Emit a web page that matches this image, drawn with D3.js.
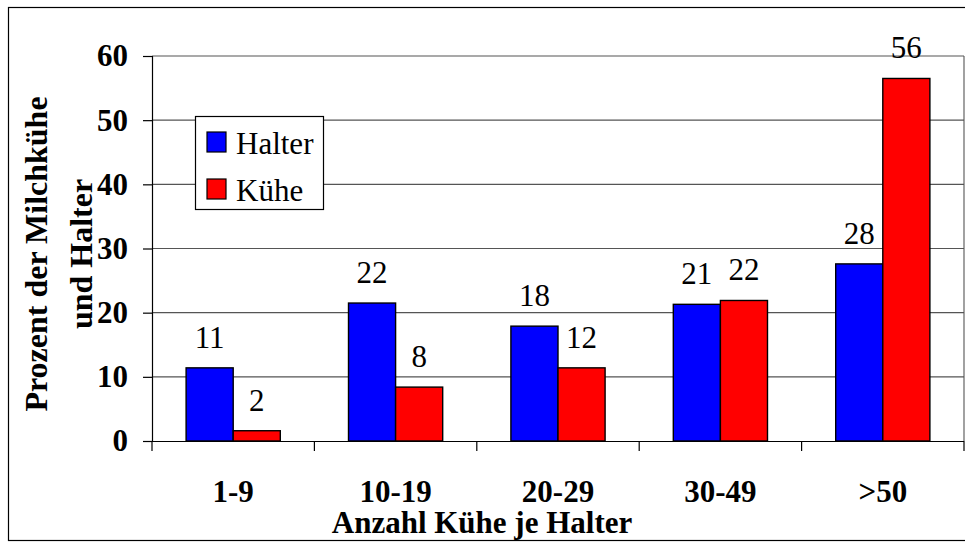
<!DOCTYPE html>
<html>
<head>
<meta charset="utf-8">
<script src="https://cdn.jsdelivr.net/npm/d3@7"></script>
<style>
  body { margin: 0; background: #fff; }
  svg { display: block; }
  text { font-family: "Liberation Serif", "Times New Roman", Times, "DejaVu Serif", serif; }
</style>
</head>
<body>
<svg id="chart" width="965" height="544"></svg>
<script>
// data
const categories = ['1-9', '10-19', '20-29', '30-49', '>50'];
const series = ['Halter', 'Kühe'];
const halter = [11.4, 21.5, 17.9, 21.3, 27.6];
const kuehe = [1.6, 8.4, 11.4, 21.9, 56.5];
const labelsHalter = ['11', '22', '18', '21', '28'];
const labelsKuehe = ['2', '8', '12', '22', '56'];
const yTicks = [0, 10, 20, 30, 40, 50, 60];
const colors = { 'Halter': '#0000ff', 'Kühe': '#ff0000' };

const FONT = '"Liberation Serif", "Times New Roman", Times, "DejaVu Serif", serif';

const svg = d3.select('#chart');
const plot = { left: 152, right: 964, top: 56, bottom: 441 };

const x0 = d3.scaleBand()
  .domain(categories)
  .range([plot.left, plot.right])
  .paddingInner(0.42)
  .paddingOuter(0.21);

const x1 = d3.scaleBand()
  .domain(series)
  .range([0, x0.bandwidth()]);

const y = d3.scaleLinear()
  .domain([0, 60])
  .range([plot.bottom, plot.top]);

const rows = categories.map((c, i) => ({
  cat: c,
  values: [
    { key: 'Halter', value: halter[i], label: labelsHalter[i] },
    { key: 'Kühe', value: kuehe[i], label: labelsKuehe[i] }
  ]
}));

// outer frame
svg.append('rect')
  .attr('x', 8.5).attr('y', 7.5)
  .attr('width', 975).attr('height', 533)
  .attr('fill', 'none').attr('stroke', '#000').attr('stroke-width', 1.2);

// gridlines
svg.append('g')
  .selectAll('line')
  .data(yTicks.filter(d => d > 0))
  .join('line')
  .attr('x1', plot.left).attr('x2', plot.right)
  .attr('y1', d => y(d)).attr('y2', d => y(d))
  .attr('stroke', '#555').attr('stroke-width', 1.1);

// right border of plot area
svg.append('line')
  .attr('x1', plot.right).attr('x2', plot.right)
  .attr('y1', plot.top).attr('y2', plot.bottom)
  .attr('stroke', '#555').attr('stroke-width', 1.1);

// bars
const groups = svg.append('g')
  .selectAll('g')
  .data(rows)
  .join('g')
  .attr('transform', d => `translate(${x0(d.cat)},0)`);

groups.selectAll('rect')
  .data(d => d.values)
  .join('rect')
  .attr('x', d => x1(d.key))
  .attr('y', d => y(d.value))
  .attr('width', x1.bandwidth())
  .attr('height', d => y(0) - y(d.value))
  .attr('fill', d => colors[d.key])
  .attr('stroke', '#000')
  .attr('stroke-width', 1.4);

groups.selectAll('text')
  .data(d => d.values)
  .join('text')
  .attr('x', d => x1(d.key) + x1.bandwidth() / 2)
  .attr('y', d => y(d.value) - 20)
  .attr('text-anchor', 'middle')
  .attr('font-family', FONT)
  .attr('font-size', 31)
  .text(d => d.label);

// y axis
const yAxis = d3.axisLeft(y).tickValues(yTicks).tickSize(9).tickPadding(15);
svg.append('g')
  .attr('transform', `translate(${plot.left},0)`)
  .call(yAxis)
  .attr('font-family', FONT)
  .call(g => {
    g.select('.domain').attr('stroke', '#000').attr('stroke-width', 1.2);
    g.selectAll('.tick line').attr('stroke', '#000').attr('stroke-width', 1.2);
    g.selectAll('.tick text')
      .attr('font-size', 31).attr('font-weight', 'bold')
      .attr('font-family', FONT)
      .attr('fill', '#000');
  });

// x axis
const xAxis = d3.axisBottom(x0).tickSize(0).tickPadding(0);
const xg = svg.append('g')
  .attr('transform', `translate(0,${plot.bottom})`)
  .call(xAxis)
  .attr('font-family', FONT);
xg.select('.domain').attr('d', `M${plot.left},0.5H${plot.right}`)
  .attr('stroke', '#000').attr('stroke-width', 1.2);
xg.selectAll('.tick text')
  .attr('y', 61).attr('dy', 0)
  .attr('font-size', 31).attr('font-weight', 'bold')
  .attr('font-family', FONT)
  .attr('fill', '#000');

// tick marks between categories
const bounds = categories.map(c => x0(c) - x0.step() * x0.paddingOuter()).concat([plot.right]);
svg.append('g')
  .selectAll('line')
  .data(bounds)
  .join('line')
  .attr('x1', d => d).attr('x2', d => d)
  .attr('y1', plot.bottom).attr('y2', plot.bottom + 10)
  .attr('stroke', '#000').attr('stroke-width', 1.2);

// axis titles
svg.append('text')
  .attr('x', 482).attr('y', 533)
  .attr('text-anchor', 'middle')
  .attr('font-family', FONT)
  .attr('font-size', 31).attr('font-weight', 'bold')
  .text('Anzahl Kühe je Halter');

const yTitle = svg.append('text')
  .attr('transform', 'translate(47,254) rotate(-90)')
  .attr('text-anchor', 'middle')
  .attr('font-family', FONT)
  .attr('font-size', 32).attr('font-weight', 'bold');
yTitle.append('tspan').attr('x', 0).attr('y', 0).text('Prozent der Milchkühe');
yTitle.append('tspan').attr('x', 0).attr('y', 45).text('und Halter');

// legend
const legend = svg.append('g').attr('transform', 'translate(195,116)');
legend.append('rect')
  .attr('x', 0.5).attr('y', 0.5)
  .attr('width', 128).attr('height', 93)
  .attr('fill', '#fff').attr('stroke', '#000').attr('stroke-width', 1.2);

const items = legend.selectAll('g.item')
  .data(series)
  .join('g')
  .attr('class', 'item')
  .attr('transform', (d, i) => `translate(12,${16 + i * 47})`);

items.append('rect')
  .attr('width', 19).attr('height', 20)
  .attr('fill', d => colors[d])
  .attr('stroke', '#000').attr('stroke-width', 1.2);

items.append('text')
  .attr('x', 29).attr('y', 22)
  .attr('font-family', FONT)
  .attr('font-size', 31)
  .text(d => d);
</script>
</body>
</html>
